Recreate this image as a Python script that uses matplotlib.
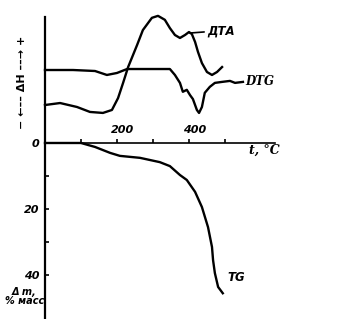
import matplotlib
matplotlib.use("Agg")
import matplotlib.pyplot as plt

# ---- data ----
# temperature, °C
dta_t = [0, 42, 89, 125, 161, 186, 203, 217, 231, 256, 272, 297, 314, 333, 347, 361, 375, 389, 400, 408, 417, 425, 436, 450, 464, 478, 492]
# DTA signal, arbitrary units (up = exo)
dta_s = [11.5, 12.1, 10.9, 9.4, 9.1, 10.0, 13.6, 18.2, 23.0, 29.7, 34.2, 37.9, 38.5, 37.3, 34.8, 32.7, 31.8, 32.7, 33.6, 33.0, 30.6, 27.6, 24.2, 21.5, 20.6, 21.5, 23.0]

dtg_t = [0, 78, 139, 172, 200, 228, 319, 347, 361, 375, 383, 394, 403, 411, 422, 428, 436, 444, 458, 472, 492, 514, 528, 550]
dtg_s = [22.1, 22.1, 21.8, 20.6, 21.2, 22.4, 22.4, 22.4, 20.6, 18.2, 15.5, 16.1, 14.5, 13.3, 10.0, 9.1, 10.9, 15.2, 17.0, 18.2, 18.5, 18.8, 18.2, 18.5]

tg_t = [0, 100, 139, 181, 208, 264, 319, 347, 375, 394, 417, 436, 453, 464, 467, 472, 481, 494]
tg_m = [0, 0, 1.2, 3.0, 3.9, 4.5, 5.8, 7.0, 9.7, 11.2, 14.8, 19.4, 25.5, 31.5, 35.5, 39.4, 43.6, 45.5]  # mass loss, %

x_ticks = [100, 200, 300, 400, 500]
x_labels = {200: "200", 400: "400"}
y_ticks = [0, 10, 20, 30, 40]
y_labels = ["0", "", "20", "", "40"]

# ---- figure ----
fig = plt.figure(figsize=(3.61, 3.19), dpi=100)
ax = fig.add_axes([0, 0, 1, 1])
ax.set_xlim(-125, 878)
ax.set_ylim(53.3, -43.3)

for s in ["top", "right"]:
    ax.spines[s].set_visible(False)
ax.spines["left"].set_position(("data", 0))
ax.spines["left"].set_bounds(-38.2, 53.3)
ax.spines["left"].set_linewidth(1.6)
ax.spines["bottom"].set_position(("data", 0))
ax.spines["bottom"].set_bounds(0, 640)
ax.spines["bottom"].set_linewidth(1.2)

ax.set_xticks(x_ticks)
ax.set_xticklabels([])
ax.tick_params(axis="x", direction="in", length=3, width=1.2)
ax.set_yticks(y_ticks)
ax.set_yticklabels(y_labels, fontsize=8, fontstyle="italic", fontweight="bold")
ax.tick_params(axis="y", direction="in", length=3, width=1.2, pad=4)
ax.yaxis.get_major_ticks()[0].tick1line.set_visible(False)

for t, lab in x_labels.items():
    ax.text(t + 15, -2.5, lab, fontsize=8, fontstyle="italic", fontweight="bold",
            ha="center", va="bottom")

lw = 1.7
ax.plot(dta_t, [-v for v in dta_s], color="black", lw=lw, solid_joinstyle="round")
ax.plot(dtg_t, [-v for v in dtg_s], color="black", lw=lw, solid_joinstyle="round")
ax.plot(tg_t, tg_m, color="black", lw=lw, solid_joinstyle="round")

ax.annotate("ДТА", xy=(403, -33.3), xytext=(450, -34.0), fontsize=8.5,
            fontstyle="italic", fontweight="bold", va="center", ha="left",
            arrowprops=dict(arrowstyle="-", lw=1.2, color="black", shrinkA=0, shrinkB=0))
ax.text(556, -18.5, "DTG", fontsize=8.5, family="DejaVu Serif", fontstyle="italic",
        fontweight="bold", va="center", ha="left")
ax.text(508, 40.6, "TG", fontsize=8.5, fontstyle="italic", fontweight="bold",
        va="center", ha="left")
ax.text(566, 2.3, "t, °C", fontsize=9, family="DejaVu Serif", fontstyle="italic",
        fontweight="bold", va="center", ha="left")

ax.text(-65, -18.5, "− ←–– ΔH ––→ +", rotation=90, fontsize=8, fontweight="bold",
        ha="center", va="center")
ax.text(-57, 46.5, "Δ m,\n% масс", fontsize=7, fontstyle="italic", fontweight="bold",
        ha="center", va="center", linespacing=0.95)

fig.savefig("out.png", dpi=100)
